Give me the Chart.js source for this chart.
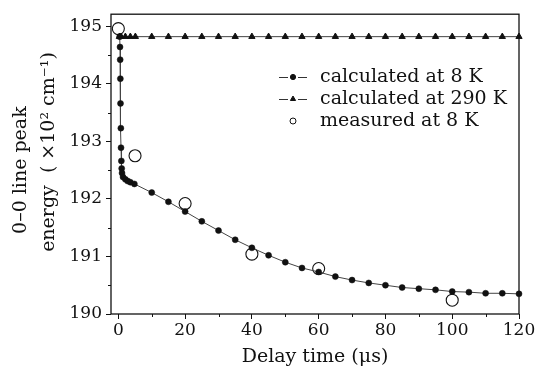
<!DOCTYPE html>
<html>
<head>
<meta charset="utf-8">
<script src="https://cdn.jsdelivr.net/npm/chart.js@4.4.1/dist/chart.umd.min.js"></script>
<style>
  html, body { margin: 0; padding: 0; background: #fff; }
</style>
</head>
<body>
<canvas id="peakChart" width="538" height="371"></canvas>
<script>
// calculated at 8 K
const time8K = [0.4, 0.5, 0.55, 0.6, 0.65, 0.75, 0.8, 0.9, 1.0, 1.1, 1.4, 2.1, 2.8, 3.6, 4.8,
  10, 15, 20, 25, 30, 35, 40, 45, 50, 55, 60, 65, 70, 75, 80, 85, 90, 95, 100, 105, 110, 115, 120];
const energy8K = [194.82, 194.64, 194.42, 194.09, 193.66, 193.23, 192.89, 192.66, 192.53, 192.45, 192.38, 192.34, 192.31, 192.29, 192.26,
  192.11, 191.95, 191.78, 191.61, 191.45, 191.29, 191.15, 191.02, 190.90, 190.80, 190.73, 190.65, 190.59, 190.54, 190.50, 190.46, 190.44, 190.42, 190.39, 190.38, 190.36, 190.36, 190.35];

// calculated at 290 K
const time290K = [0.3, 0.8, 2.1, 3.6, 5.1, 10, 15, 20, 25, 30, 35, 40, 45, 50, 55, 60, 65, 70, 75, 80, 85, 90, 95, 100, 105, 110, 115, 120];
const energy290K = [194.82, 194.82, 194.82, 194.82, 194.82, 194.82, 194.82, 194.82, 194.82, 194.82, 194.82, 194.82, 194.82, 194.82,
  194.82, 194.82, 194.82, 194.82, 194.82, 194.82, 194.82, 194.82, 194.82, 194.82, 194.82, 194.82, 194.82, 194.82];

// measured at 8 K
const timeMeasured = [0, 5, 20, 40, 60, 100];
const energyMeasured = [194.96, 192.75, 191.92, 191.04, 190.79, 190.24];

const xMajorTicks = [0, 20, 40, 60, 80, 100, 120];
const xMinorTicks = [10, 30, 50, 70, 90, 110];
const yMajorTicks = [190, 191, 192, 193, 194, 195];
const yMinorTicks = [190.5, 191.5, 192.5, 193.5, 194.5];

const FONT = "'DejaVu Serif', serif";
const toPoints = (xs, ys) => xs.map((x, i) => ({ x: x, y: ys[i] }));

// frame, minor ticks and the inset legend
const decorations = {
  id: "decorations",
  afterDraw(chart) {
    const ctx = chart.ctx;
    const area = chart.chartArea;
    const xs = chart.scales.x;
    const ys = chart.scales.y;

    ctx.save();
    ctx.strokeStyle = "#111";
    ctx.lineWidth = 1.3;
    ctx.strokeRect(area.left, area.top, area.right - area.left, area.bottom - area.top);

    ctx.lineWidth = 1;
    ctx.beginPath();
    xMinorTicks.forEach(v => {
      const px = Math.round(xs.getPixelForValue(v)) + 0.5;
      ctx.moveTo(px, area.bottom);
      ctx.lineTo(px, area.bottom + 3);
    });
    yMinorTicks.forEach(v => {
      const py = Math.round(ys.getPixelForValue(v)) + 0.5;
      ctx.moveTo(area.left, py);
      ctx.lineTo(area.left - 3, py);
    });
    ctx.stroke();

    const rows = [
      { label: "calculated at 8 K", style: "circle", radius: 2.6, fill: "#111", line: true },
      { label: "calculated at 290 K", style: "triangle", radius: 3, fill: "#111", line: true },
      { label: "measured at 8 K", style: "circle", radius: 3, fill: "rgba(0,0,0,0)", line: false }
    ];
    const mx = 293;
    let y = 77;
    ctx.font = "19px " + FONT;
    ctx.textBaseline = "middle";
    rows.forEach(r => {
      if (r.line) {
        ctx.strokeStyle = "#333";
        ctx.lineWidth = 1;
        ctx.beginPath();
        ctx.moveTo(mx - 14, y + 0.5);
        ctx.lineTo(mx - 5, y + 0.5);
        ctx.moveTo(mx + 5, y + 0.5);
        ctx.lineTo(mx + 14, y + 0.5);
        ctx.stroke();
      }
      ctx.fillStyle = r.fill;
      ctx.strokeStyle = "#111";
      Chart.helpers.drawPoint(ctx, { pointStyle: r.style, radius: r.radius, borderWidth: 1, rotation: 0 }, mx, y);
      ctx.fillStyle = "#111";
      ctx.fillText(r.label, 320, y);
      y += 22;
    });
    ctx.restore();
  }
};

new Chart(document.getElementById("peakChart"), {
  type: "scatter",
  data: {
    datasets: [
      {
        label: "calculated at 290 K",
        data: toPoints(time290K, energy290K),
        showLine: true,
        borderColor: "#444",
        borderWidth: 1,
        pointStyle: "triangle",
        pointRadius: 3.6,
        pointBackgroundColor: "#111",
        pointBorderColor: "#111",
        pointBorderWidth: 1,
        clip: false
      },
      {
        label: "calculated at 8 K",
        data: toPoints(time8K, energy8K),
        showLine: true,
        borderColor: "#444",
        borderWidth: 1,
        pointStyle: "circle",
        pointRadius: 3,
        pointBackgroundColor: "#111",
        pointBorderColor: "#111",
        pointBorderWidth: 0.5,
        clip: false
      },
      {
        label: "measured at 8 K",
        data: toPoints(timeMeasured, energyMeasured),
        showLine: false,
        pointStyle: "circle",
        pointRadius: 6,
        pointBackgroundColor: "rgba(255,255,255,0)",
        pointBorderColor: "#111",
        pointBorderWidth: 1.1,
        clip: false
      }
    ]
  },
  options: {
    responsive: false,
    animation: false,
    layout: { padding: { top: 13, right: 19, left: 0, bottom: 0 } },
    plugins: {
      legend: { display: false },
      tooltip: { enabled: false }
    },
    scales: {
      x: {
        type: "linear",
        min: -2.2,
        max: 120,
        afterBuildTicks: s => { s.ticks = xMajorTicks.map(v => ({ value: v })); },
        afterFit: s => { s.height = 57; },
        grid: { drawOnChartArea: false, drawTicks: true, tickLength: 5, tickColor: "#111" },
        border: { display: false },
        ticks: { color: "#111", font: { family: FONT, size: 17 }, padding: 1, maxRotation: 0 },
        title: {
          display: true,
          text: "Delay time (μs)",
          color: "#111",
          font: { family: FONT, size: 19, lineHeight: 1.2 },
          padding: { top: 0, bottom: 3 }
        }
      },
      y: {
        type: "linear",
        min: 190,
        max: 195.21,
        afterBuildTicks: s => { s.ticks = yMajorTicks.map(v => ({ value: v })); },
        afterFit: s => { s.width = 111; },
        grid: { drawOnChartArea: false, drawTicks: true, tickLength: 5, tickColor: "#111" },
        border: { display: false },
        ticks: { color: "#111", font: { family: FONT, size: 17 }, padding: 4 },
        title: {
          display: true,
          text: ["0–0 line peak  ", "    energy  ( ×10² cm⁻¹)"],
          color: "#111",
          font: { family: FONT, size: 19, lineHeight: 1.47 },
          padding: { top: 7, bottom: 0 }
        }
      }
    }
  },
  plugins: [decorations]
});
</script>
</body>
</html>
